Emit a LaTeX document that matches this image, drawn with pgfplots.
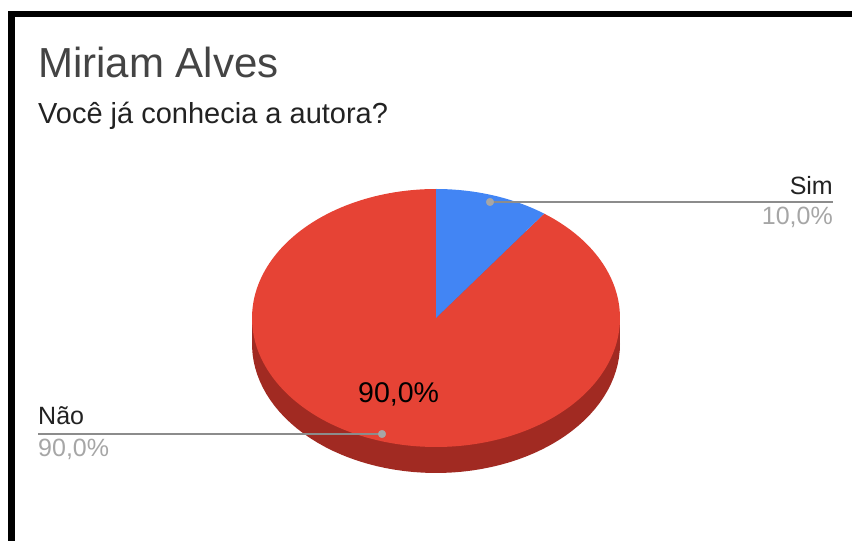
\documentclass[border=0pt]{standalone}
\usepackage{fontspec}
\setmainfont{Liberation Sans}
\usepackage{pgfplots}
\pgfplotsset{compat=1.18}

\definecolor{gblue}{HTML}{4285F4}
\definecolor{gred}{HTML}{E64335}
\definecolor{gside}{HTML}{A12A22}
\definecolor{ttl}{HTML}{444444}
\definecolor{txt}{HTML}{222222}
\definecolor{pct}{HTML}{A6A6A6}
\definecolor{lead}{HTML}{8C8C8C}

% shares (percent)
\newcommand\Sim{10}
\newcommand\Nao{90}

% pie geometry in pixel units
\newcommand\cx{436}
\newcommand\cy{223}
\newcommand\rx{184}
\newcommand\ry{129}
\newcommand\dep{26}

\begin{document}
\begin{tikzpicture}
\pgfmathsetmacro\aA{90}
\pgfmathsetmacro\aB{90-3.6*\Sim}
\pgfmathsetmacro\aC{\aB-3.6*\Nao}
\begin{axis}[
    at={(0,0)}, anchor=south west,
    width=852pt, height=541pt,
    scale only axis,
    hide axis,
    xmin=0, xmax=852, ymin=0, ymax=541,
    clip=false,
]
% frame (black bands top and left)
\fill[black] (axis cs:8,524) rectangle (axis cs:852,530);
\fill[black] (axis cs:8,0) rectangle (axis cs:15,530);

% side of the pie
\addplot[fill=gside, draw=none, domain=0:360, samples=120]
    ({\cx+\rx*cos(x)}, {\cy-\dep+\ry*sin(x)}) -- cycle;
\addplot[fill=gside, draw=none] coordinates {
    (\cx-\rx,\cy-\dep) (\cx+\rx,\cy-\dep) (\cx+\rx,\cy) (\cx-\rx,\cy)} -- cycle;

% top face
\addplot[fill=gred, draw=none, domain=\aC:\aB, samples=200]
    ({\cx+\rx*cos(x)}, {\cy+\ry*sin(x)}) -- (axis cs:\cx,\cy) -- cycle;
\addplot[fill=gblue, draw=none, domain=\aB:\aA, samples=40]
    ({\cx+\rx*cos(x)}, {\cy+\ry*sin(x)}) -- (axis cs:\cx,\cy) -- cycle;

% leader lines
\addplot[lead, line width=1.6pt] coordinates {(490,339) (833,339)};
\addplot[lead, line width=1.6pt] coordinates {(38,107) (382,107)};
\addplot[only marks, mark=*, mark size=3.8pt, color=pct] coordinates {(490,339) (382,107)};

% texts
\node[anchor=base west, inner sep=0, text=ttl, font=\fontsize{42}{48}\selectfont]
    at (axis cs:38,463) {Miriam Alves};
\node[anchor=base west, inner sep=0, text=txt, font=\fontsize{29}{34}\selectfont]
    at (axis cs:38,417) {Você já conhecia a autora?};
\node[anchor=base east, inner sep=0, text=txt, font=\fontsize{25}{30}\selectfont]
    at (axis cs:833,346) {Sim};
\node[anchor=base east, inner sep=0, text=pct, font=\fontsize{25}{30}\selectfont]
    at (axis cs:833,316) {10,0\%};
\node[anchor=base west, inner sep=0, text=txt, font=\fontsize{25}{30}\selectfont]
    at (axis cs:38,116) {Não};
\node[anchor=base west, inner sep=0, text=pct, font=\fontsize{25}{30}\selectfont]
    at (axis cs:38,84) {90,0\%};
\node[anchor=base west, inner sep=0, text=black, font=\fontsize{28.5}{34}\selectfont]
    at (axis cs:358,138) {90,0\%};
\end{axis}
\pgfresetboundingbox
\path (current axis.south west) rectangle (current axis.north east);
\end{tikzpicture}
\end{document}
